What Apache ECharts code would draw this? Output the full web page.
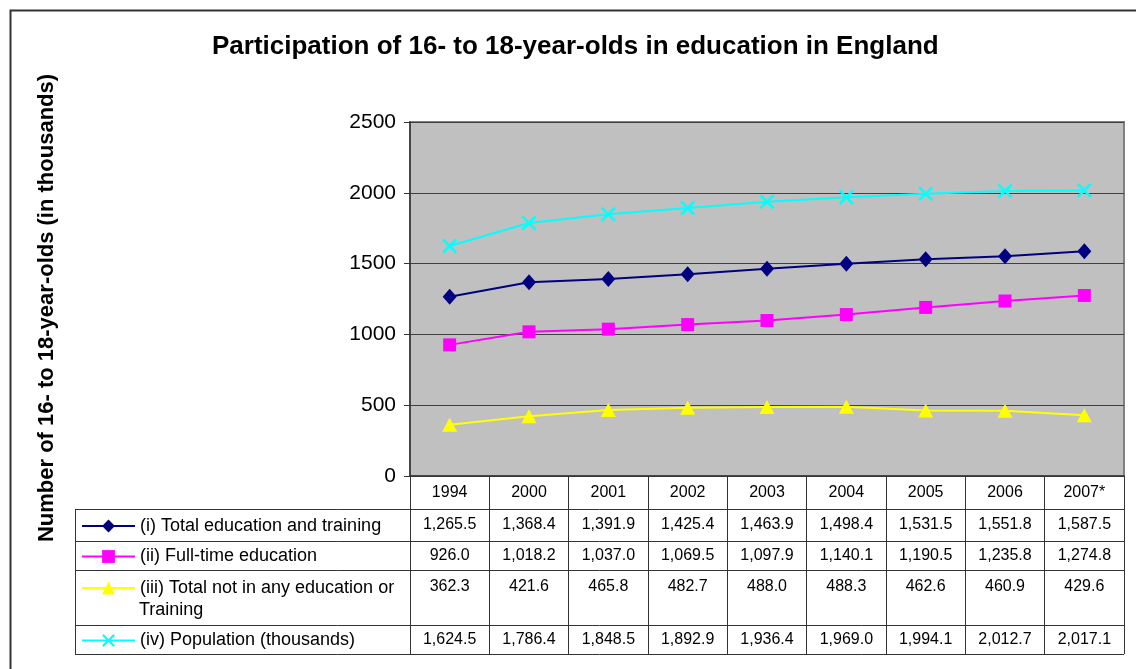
<!DOCTYPE html>
<html>
<head>
<meta charset="utf-8">
<script src="https://cdn.jsdelivr.net/npm/echarts@6/dist/echarts.min.js"></script>
<style>
html,body{margin:0;padding:0;background:#fff;}
#c{width:1136px;height:669px;}
</style>
</head>
<body>
<div id="c"></div>
<script>
var years = ['1994','2000','2001','2002','2003','2004','2005','2006','2007*'];
var seriesNames = [
  '(i) Total education and training',
  '(ii) Full-time education',
  '(iii) Total not in any education or Training',
  '(iv) Population (thousands)'
];
var totalEdu = [1265.5,1368.4,1391.9,1425.4,1463.9,1498.4,1531.5,1551.8,1587.5];
var fullTime = [926.0,1018.2,1037.0,1069.5,1097.9,1140.1,1190.5,1235.8,1274.8];
var notInEdu = [362.3,421.6,465.8,482.7,488.0,488.3,462.6,460.9,429.6];
var population = [1624.5,1786.4,1848.5,1892.9,1936.4,1969.0,1994.1,2012.7,2017.1];
var yTicks = {min:0, max:2500, interval:500};

var FONT = '"Liberation Sans", Arial, sans-serif';
var colors = ['#000080','#FF00FF','#FFFF00','#00FFFF'];
var xPath = 'path://M0,1.2L1.2,0L5,3.8L8.8,0L10,1.2L6.2,5L10,8.8L8.8,10L5,6.2L1.2,10L0,8.8L3.8,5Z';
var symbols = ['diamond','rect','triangle',xPath];
var symSizes = [[14,16],13,[15,14],15];
var allData = [totalEdu, fullTime, notInEdu, population];

function fmt(v){
  var s = v.toFixed(1);
  var p = s.split('.');
  p[0] = p[0].replace(/\B(?=(\d{3})+(?!\d))/g, ',');
  return p.join('.');
}

var gridTop = 122, gridBottomY = 476;
var rowCenters = [525, 555.5, 587, 639.5];
var tableLinesY = [509, 541, 570, 625, 654];
var legendLeft = 81;

var xAxes = [{
  type:'category', data:years, gridIndex:0, position:'bottom',
  axisLine:{show:true, lineStyle:{color:'#333', width:1.5}},
  axisTick:{show:true, length:178, lineStyle:{color:'#333', width:1}},
  axisLabel:{color:'#000', fontSize:16, fontFamily:FONT, margin:9, interval:0},
  splitLine:{show:false}
}];
allData.forEach(function(arr, i){
  xAxes.push({
    type:'category', data:arr.map(fmt), gridIndex:0, position:'bottom',
    offset: rowCenters[i] - 8 - gridBottomY,
    axisLine:{show:false}, axisTick:{show:false}, splitLine:{show:false},
    axisLabel:{color:'#000', fontSize:16, fontFamily:FONT, margin:0, interval:0}
  });
});

var series = allData.map(function(arr, i){
  return {
    name: seriesNames[i], type:'line', data:arr, xAxisIndex:0, yAxisIndex:0,
    symbol: symbols[i], symbolSize: symSizes[i], showAllSymbol:true,
    lineStyle:{color:colors[i], width:2},
    itemStyle:{color:colors[i]},
    emphasis:{disabled:true}, animation:false
  };
});

var legends = seriesNames.map(function(n, i){
  return {
    data:[n], left:legendLeft, top: rowCenters[i] - 8, orient:'vertical',
    padding:0, itemWidth:53, itemHeight:16, selectedMode:false,
    formatter: function(name){ return name.replace(' Training',''); },
    textStyle:{color:'#000', fontSize:18, fontFamily:FONT}
  };
});

var graphics = [
  {type:'rect', shape:{x:10.5, y:10.5, width:1300, height:900}, style:{fill:'none', stroke:'#333', lineWidth:2}, silent:true},
  {type:'line', shape:{x1:75.5, y1:509, x2:75.5, y2:654}, style:{stroke:'#333', lineWidth:1}, silent:true},
  {type:'text', x:139, y:610, style:{text:'Training', fontSize:18, fontFamily:FONT, fill:'#000', textVerticalAlign:'middle'}, silent:true},
  {type:'text', x:47, y:308, rotation:Math.PI/2, style:{text:'Number of 16- to 18-year-olds (in thousands)', fontSize:22, fontWeight:'bold', fontFamily:FONT, fill:'#000', textAlign:'center', textVerticalAlign:'middle'}, silent:true}
];
tableLinesY.forEach(function(y){
  graphics.push({type:'line', shape:{x1:75, y1:y+0.5, x2:1124, y2:y+0.5}, style:{stroke:'#333', lineWidth:1}, silent:true});
});

var option = {
  backgroundColor:'#fff',
  animation:false,
  title:{
    text:'Participation of 16- to 18-year-olds in education in England',
    left:212, top:34, padding:0,
    textStyle:{fontSize:26, fontWeight:'bold', fontFamily:FONT, color:'#000'}
  },
  legend: legends,
  grid:{left:410, top:gridTop, width:714, height:gridBottomY-gridTop, show:true, backgroundColor:'#C0C0C0', borderColor:'#808080', borderWidth:2, containLabel:false},
  xAxis: xAxes,
  yAxis:{
    type:'value', min:yTicks.min, max:yTicks.max, interval:yTicks.interval,
    axisLine:{show:true, lineStyle:{color:'#333', width:1.5}},
    axisTick:{show:true, length:6, inside:false, lineStyle:{color:'#333'}},
    axisLabel:{color:'#000', fontSize:21, fontFamily:FONT, margin:14, formatter:function(v){return String(v);}},
    splitLine:{show:true, lineStyle:{color:'#404040', width:1}}
  },
  series: series,
  graphic: graphics
};
var chart = echarts.init(document.getElementById('c'), null, {renderer:'canvas'});
chart.setOption(option);
</script>
</body>
</html>
